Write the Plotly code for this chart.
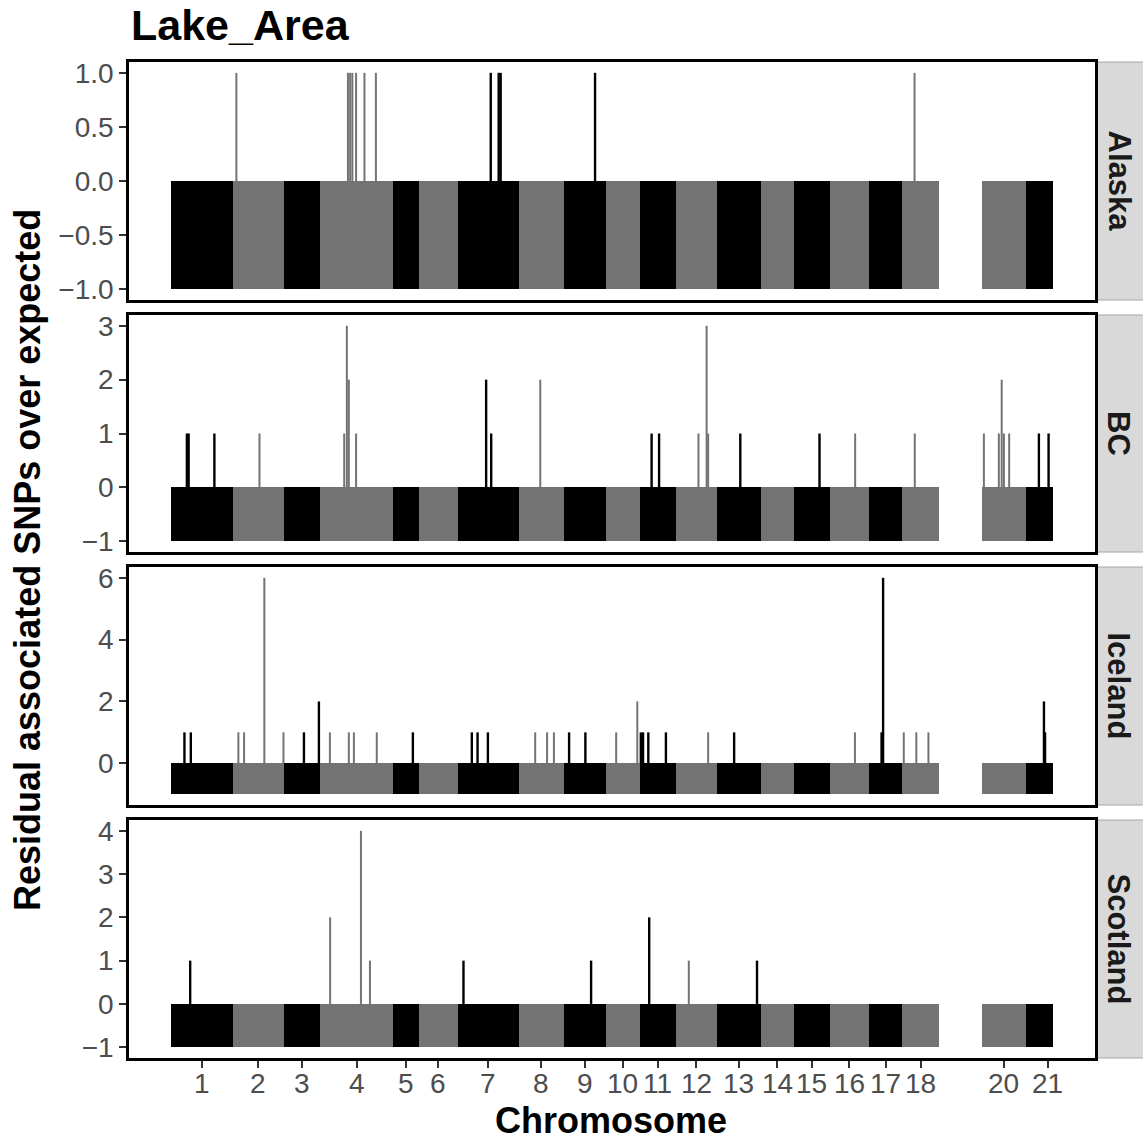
import plotly.graph_objects as go
from plotly.subplots import make_subplots

# ---------------- data ----------------
title_text = "Lake_Area"
populations = ["Alaska", "BC", "Iceland", "Scotland"]
chromosomes = list(range(1, 22))
chrom_len_mb = [28.2, 23.2, 16.6, 32.9, 12.1, 17.3, 27.9, 20.3, 19.1, 15.4, 16.7,
                18.3, 20.1, 15.1, 16.2, 18.0, 14.8, 17.0, 19.3, 20.1, 12.3]
excluded_chrom = [19]
# where each chromosome label sits, Mb from the chromosome start
label_pos_in_chrom = [14.1, 11.6, 8.3, 16.45, 6.05, 8.65, 13.95, 10.15, 9.55, 7.7, 8.35,
                      9.15, 10.05, 7.55, 8.1, 9.0, 7.4, 8.5, 9.65, 10.05, 9.9]

alaska_chr = [2, 4, 4, 4, 4, 4, 4, 7, 7, 7, 9, 18]
alaska_pos = [1.6, 12.5, 13.5, 14.5, 16.2, 20.0, 25.2, 15.1, 18.7, 19.6, 14.3, 5.8]
alaska_val = [1, 1, 1, 1, 1, 1, 1, 1, 1, 1, 1, 1]

bc_chr = [1, 1, 1, 2, 4, 4, 4, 4, 7, 7, 8, 11, 11, 12, 12, 12, 13, 15, 16, 18,
          20, 20, 20, 20, 20, 21, 21]
bc_pos = [7.3, 8.1, 19.8, 12.1, 10.8, 12.0, 12.9, 16.2, 13.0, 15.3, 9.7, 5.5, 8.9,
          10.1, 13.8, 14.5, 10.8, 11.6, 11.6, 5.9, 1.0, 7.8, 9.1, 10.1, 12.5, 5.9, 10.3]
bc_val = [1, 1, 1, 1, 1, 3, 2, 1, 2, 1, 2, 1, 1, 1, 3, 1, 1, 1, 1, 1,
          1, 1, 2, 1, 1, 1, 1]

iceland_chr = [1, 1, 2, 2, 2, 2, 3, 3, 4, 4, 4, 4, 5, 7, 7, 7, 8, 8, 8, 9, 9,
               10, 10, 11, 11, 11, 11, 12, 13, 16, 17, 17, 18, 18, 18, 21, 21]
iceland_pos = [6.2, 9.1, 2.5, 5.1, 14.3, 23.0, 9.1, 15.9, 4.3, 12.9, 15.2, 25.6, 9.1,
               6.5, 9.1, 13.8, 7.4, 12.8, 15.9, 2.5, 9.9, 4.8, 14.4, 0.6, 1.6, 4.0,
               12.0, 14.5, 8.0, 11.5, 5.6, 6.3, 0.9, 6.6, 12.1, 8.2, 8.7]
iceland_val = [1, 1, 1, 1, 6, 1, 1, 2, 1, 1, 1, 1, 1, 1, 1, 1, 1, 1, 1, 1, 1,
               1, 2, 1, 1, 1, 1, 1, 1, 1, 1, 6, 1, 1, 1, 2, 1]

scotland_chr = [1, 4, 4, 4, 7, 9, 11, 12, 13]
scotland_pos = [8.8, 4.4, 18.4, 22.5, 2.7, 12.5, 4.4, 5.7, 18.4]
scotland_val = [1, 2, 4, 1, 1, 1, 2, 1, 1]

spikes = {
    "Alaska": (alaska_chr, alaska_pos, alaska_val),
    "BC": (bc_chr, bc_pos, bc_val),
    "Iceland": (iceland_chr, iceland_pos, iceland_val),
    "Scotland": (scotland_chr, scotland_pos, scotland_val),
}

y_tickvals = {
    "Alaska": [-1, -0.5, 0, 0.5, 1],
    "BC": [-1, 0, 1, 2, 3],
    "Iceland": [0, 2, 4, 6],
    "Scotland": [-1, 0, 1, 2, 3, 4],
}
y_ticktext = {
    "Alaska": ["\u22121.0", "\u22120.5", "0.0", "0.5", "1.0"],
    "BC": ["\u22121", "0", "1", "2", "3"],
    "Iceland": ["0", "2", "4", "6"],
    "Scotland": ["\u22121", "0", "1", "2", "3", "4"],
}
y_limits = {"Alaska": (-1, 1), "BC": (-1, 3), "Iceland": (-1, 6), "Scotland": (-1, 4)}

# ---------------- derived positions ----------------
BLACK = "#000000"
GREY = "#737373"
chrom_start = {}
acc = 0.0
for c, L in zip(chromosomes, chrom_len_mb):
    chrom_start[c] = acc
    acc += L
genome_total = acc

def chrom_colour(c):
    return BLACK if c % 2 == 1 else GREY

drawn = [c for c in chromosomes if c not in excluded_chrom]
bar_x = [chrom_start[c] + chrom_len_mb[c - 1] / 2 for c in drawn]
bar_w = [chrom_len_mb[c - 1] for c in drawn]
bar_col = [chrom_colour(c) for c in drawn]
tick_x = [chrom_start[c] + label_pos_in_chrom[c - 1] for c in drawn]
tick_t = [str(c) for c in drawn]

fig = make_subplots(rows=4, cols=1, shared_xaxes=True, vertical_spacing=0.015)

for i, pop in enumerate(populations, start=1):
    fig.add_trace(go.Bar(x=bar_x, y=[1] * len(drawn), base=[-1] * len(drawn),
                         width=bar_w, marker=dict(color=bar_col, line=dict(width=0)),
                         showlegend=False, hoverinfo="skip"), row=i, col=1)
    chs, pos, vals = spikes[pop]
    for colour, lw in ((GREY, 2.0), (BLACK, 2.4)):
        xs, ys = [], []
        for c, p, v in zip(chs, pos, vals):
            if chrom_colour(c) != colour:
                continue
            gx = chrom_start[c] + p
            xs += [gx, gx, None]
            ys += [0, v, None]
        fig.add_trace(go.Scatter(x=xs, y=ys, mode="lines",
                                 line=dict(color=colour, width=lw),
                                 showlegend=False, hoverinfo="skip"), row=i, col=1)

# ---------------- layout ----------------
L_M, R_M, T_M, B_M = 129, 48, 62, 85
W = H = 1143
plot_w = W - L_M - R_M
plot_h = H - T_M - B_M
panel_px = {"Alaska": (62, 300), "BC": (315, 552), "Iceland": (567, 805), "Scotland": (820, 1058)}

def py(p):
    return (H - B_M - p) / plot_h

FONT = "Liberation Sans, Arial, sans-serif"
tick_font = dict(family=FONT, size=28, color="#4D4D4D")
x_range = [-19.0, 420.0]

for i, pop in enumerate(populations, start=1):
    top, bot = panel_px[pop]
    lo, hi = y_limits[pop]
    pad = 0.05 * (hi - lo)
    yname = "yaxis" if i == 1 else f"yaxis{i}"
    xname = "xaxis" if i == 1 else f"xaxis{i}"
    fig.layout[yname].update(domain=[py(bot), py(top)], range=[lo - pad, hi + pad],
                             tickvals=y_tickvals[pop], ticktext=y_ticktext[pop],
                             showgrid=False, zeroline=False, showline=True, mirror=True,
                             linecolor="black", linewidth=2.5, ticks="outside", ticklen=7,
                             tickwidth=1.5, tickcolor="#333333", tickfont=tick_font)
    is_bottom = (i == len(populations))
    fig.layout[xname].update(range=x_range, showgrid=False, zeroline=False, showline=True,
                             mirror=True, linecolor="black", linewidth=2.5,
                             tickvals=tick_x, ticktext=tick_t,
                             ticks="outside" if is_bottom else "", ticklen=7,
                             tickwidth=1.5, tickcolor="#333333",
                             showticklabels=False)
    # strip
    fig.add_shape(type="rect", xref="paper", yref="paper",
                  x0=(1097 - L_M) / plot_w, x1=(1160 - L_M) / plot_w,
                  y0=py(bot), y1=py(top), fillcolor="#D9D9D9",
                  line=dict(color="#A6A6A6", width=1), layer="below")
    fig.add_annotation(xref="paper", yref="paper", x=(1118.5 - L_M) / plot_w,
                       y=(py(bot) + py(top)) / 2, text=pop, textangle=90, showarrow=False,
                       xanchor="center", yanchor="middle",
                       font=dict(family=FONT, size=31, color="#1A1A1A", weight="bold"))

# x tick labels placed just under the bottom panel, at the axis' tick positions
for tx, tt in zip(tick_x, tick_t):
    fig.add_annotation(xref="x4", yref="paper", x=tx, y=py(1083), text=tt,
                       showarrow=False, xanchor="center", yanchor="middle",
                       font=tick_font)

fig.add_annotation(xref="paper", yref="paper", x=0, y=py(25), xanchor="left",
                   yanchor="middle", text="<b>" + title_text + "</b>", showarrow=False,
                   font=dict(family=FONT, size=43, color="black"))
fig.add_annotation(xref="paper", yref="paper", x=(27 - L_M) / plot_w, y=py(560),
                   xanchor="center", yanchor="middle", textangle=-90,
                   text="<b>Residual associated SNPs over expected</b>", showarrow=False,
                   font=dict(family=FONT, size=36, color="black"))
fig.add_annotation(xref="paper", yref="paper", x=(611 - L_M) / plot_w, y=py(1120),
                   xanchor="center", yanchor="middle", text="<b>Chromosome</b>",
                   showarrow=False,
                   font=dict(family=FONT, size=36, color="black"))

fig.update_layout(width=W, height=H, margin=dict(l=L_M, r=R_M, t=T_M, b=B_M),
                  plot_bgcolor="white", paper_bgcolor="white", barmode="overlay",
                  bargap=0, showlegend=False)

fig.write_html("out.html")
